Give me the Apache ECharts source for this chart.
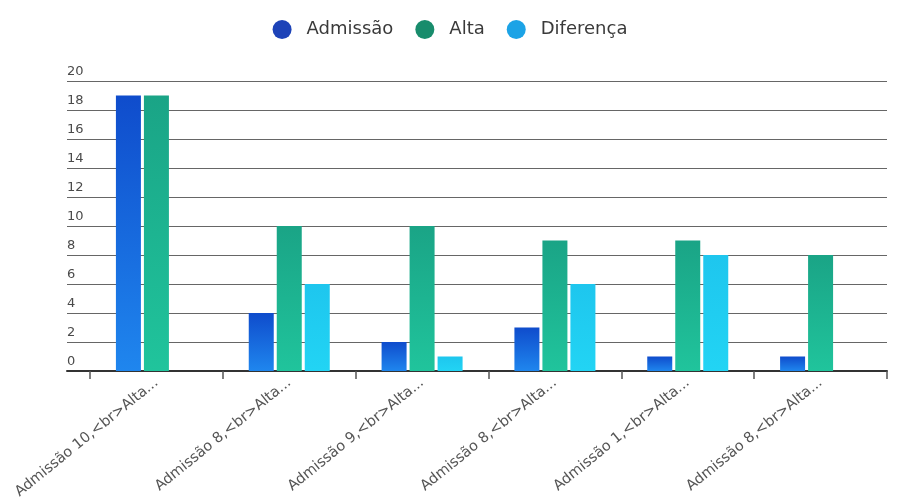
<!DOCTYPE html>
<html>
<head>
<meta charset="utf-8">
<script src="https://cdn.jsdelivr.net/npm/echarts@6/dist/echarts.min.js"></script>
<style>html,body{margin:0;padding:0;background:#fff}#c{width:900px;height:504px}</style>
</head>
<body>
<div id="c"></div>
<script>
const categories = [
  "Admissão 10,<br>Alta...",
  "Admissão 8,<br>Alta...",
  "Admissão 9,<br>Alta...",
  "Admissão 8,<br>Alta...",
  "Admissão 1,<br>Alta...",
  "Admissão 8,<br>Alta..."
];
const admissao = [19, 4, 2, 3, 1, 1];
const alta = [19, 10, 10, 9, 9, 8];
const diferenca = [0, 6, 1, 6, 8, 0];
const yTicks = [0, 20, 2];

const chart = echarts.init(document.getElementById('c'), null, {renderer: 'canvas'});
const grad = (top, bottom) => new echarts.graphic.LinearGradient(0, 0, 0, 1, [
  {offset: 0, color: top}, {offset: 1, color: bottom}
]);
const font = '"DejaVu Sans", Verdana, sans-serif';
chart.setOption({
  animation: false,
  textStyle: {fontFamily: font},
  legend: {
    top: 15, left: 'center',
    icon: 'circle', itemWidth: 19, itemHeight: 19, itemGap: 22,
    textStyle: {fontSize: 18, color: '#3a3a3a', fontFamily: font, padding: [0, 0, 0, 10]},
    data: [
      {name: 'Admissão', itemStyle: {color: '#1d43b8'}},
      {name: 'Alta', itemStyle: {color: '#188c6c'}},
      {name: 'Diferença', itemStyle: {color: '#1ca3e6'}}
    ]
  },
  grid: [
    {left: 67, right: 13, top: 81, bottom: 133},
    {left: 90, right: 13, top: 81, bottom: 133}
  ],
  xAxis: [
    {gridIndex: 0, type: 'category', data: categories, boundaryGap: true,
     axisLine: {show: true, lineStyle: {color: '#333', width: 2}},
     axisTick: {show: false}, axisLabel: {show: false}, splitLine: {show: false}},
    {gridIndex: 1, type: 'category', data: categories, boundaryGap: true,
     axisLine: {show: false},
     axisTick: {show: true, alignWithLabel: false, length: 8, lineStyle: {color: '#555', width: 1.5}},
     axisLabel: {rotate: 39, fontSize: 14.5, color: '#555', margin: 10, interval: 0, fontFamily: font}}
  ],
  yAxis: [
    {gridIndex: 0, type: 'value', min: yTicks[0], max: yTicks[1], interval: yTicks[2],
     axisLine: {show: false}, axisTick: {show: false},
     axisLabel: {inside: true, margin: 0, verticalAlign: 'bottom', padding: [0, 0, 3, 0],
                 fontSize: 13, color: '#4a4a4a', fontFamily: font},
     splitLine: {show: true, lineStyle: {color: '#666', width: 1}}},
    {gridIndex: 1, type: 'value', min: yTicks[0], max: yTicks[1], interval: yTicks[2],
     show: false, splitLine: {show: false}}
  ],
  series: [
    {name: 'Admissão', type: 'bar', xAxisIndex: 1, yAxisIndex: 1, data: admissao,
     barWidth: 25, barGap: '12%',
     itemStyle: {color: grad('#0f4ccc', '#1f86ee')}},
    {name: 'Alta', type: 'bar', xAxisIndex: 1, yAxisIndex: 1, data: alta,
     barWidth: 25, barGap: '12%',
     itemStyle: {color: grad('#1aa486', '#20c49c')}},
    {name: 'Diferença', type: 'bar', xAxisIndex: 1, yAxisIndex: 1, data: diferenca,
     barWidth: 25, barGap: '12%',
     itemStyle: {color: grad('#1ec6ee', '#22d4f4')}}
  ]
});
</script>
</body>
</html>
